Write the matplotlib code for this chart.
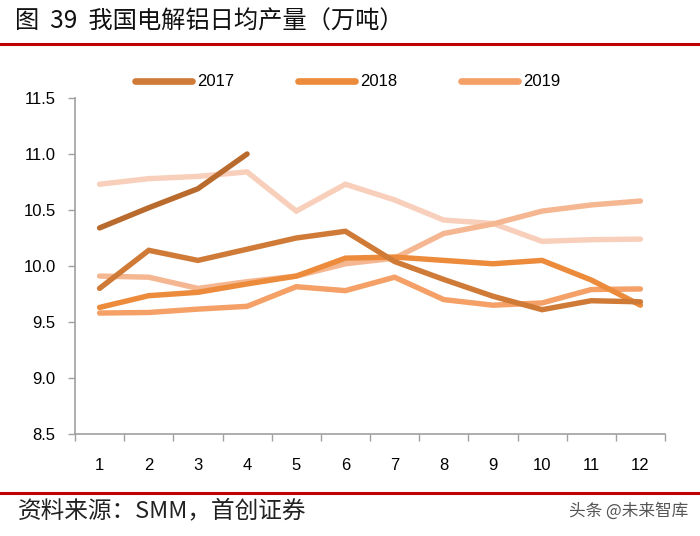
import matplotlib
matplotlib.use("Agg")
import matplotlib.pyplot as plt
from matplotlib.lines import Line2D

plt.rcParams['font.family'] = ['Liberation Sans', 'Noto Sans CJK SC', 'DejaVu Sans']

months = [1, 2, 3, 4, 5, 6, 7, 8, 9, 10, 11, 12]
month_labels = [str(m) for m in months]

y2017 = [9.80, 10.14, 10.05, 10.15, 10.25, 10.31, 10.04, 9.88, 9.73, 9.61, 9.69, 9.68]
y2018 = [9.63, 9.735, 9.765, 9.84, 9.91, 10.07, 10.08, 10.05, 10.02, 10.05, 9.875, 9.65]
y2019 = [9.58, 9.585, 9.615, 9.64, 9.815, 9.78, 9.90, 9.70, 9.65, 9.67, 9.79, 9.795]
y2020 = [9.91, 9.90, 9.80, 9.86, 9.91, 10.02, 10.07, 10.29, 10.375, 10.49, 10.545, 10.58]
y2021 = [10.73, 10.78, 10.80, 10.84, 10.49, 10.73, 10.59, 10.41, 10.38, 10.22, 10.235, 10.24]
y2022 = [10.34, 10.52, 10.69, 11.0]

yticks = [8.5, 9.0, 9.5, 10.0, 10.5, 11.0, 11.5]

series = [
    ("2021", y2021, "#F8CFBB"),
    ("2020", y2020, "#F5B791"),
    ("2019", y2019, "#F4A066"),
    ("2018", y2018, "#EC8B3B"),
    ("2017", y2017, "#CF7A37"),
    ("2022", y2022, "#B96A2D"),
]

fig = plt.figure(figsize=(7.0, 5.36), dpi=100)
ax = fig.add_axes([75/700, 1-434/536, (665-75)/700, (434-98)/536])

handles = {}
for name, vals, col in series:
    ln, = ax.plot(months[:len(vals)], vals, color=col, lw=3.9,
                  solid_capstyle='round', solid_joinstyle='miter')
    handles[name] = ln

ax.set_xlim(0.5, 12.5)
ax.set_ylim(8.5, 11.5)
ax.set_yticks(yticks)
ax.set_yticklabels([f"{v:.1f}" for v in yticks], fontsize=12)
ax.set_xticks([m - 0.5 for m in months] + [12.5])
ax.set_xticklabels([])
ax.set_xticks(months, minor=True)
ax.set_xticklabels(month_labels, minor=True, fontsize=12)
ax.tick_params(axis='x', which='minor', length=0, pad=17)
ax.tick_params(axis='x', which='major', length=5, color='#A0A0A0', width=1)
ax.tick_params(axis='y', length=5, color='#A0A0A0', width=1, pad=9)
for s in ['top', 'right']:
    ax.spines[s].set_visible(False)
for s in ['left', 'bottom']:
    ax.spines[s].set_color('#A0A0A0')
    ax.spines[s].set_linewidth(1.2)

leg_handles = [Line2D([], [], color=handles[n].get_color(), lw=4.8, solid_capstyle='round')
               for n in ["2017", "2018", "2019"]]
fig.legend(leg_handles, ["2017", "2018", "2019"], loc='center left',
           bbox_to_anchor=(120/700, 1-82/536), ncol=3, frameon=False,
           fontsize=12, handlelength=3.4, handletextpad=0.35, columnspacing=3.8)

# title and decorations
fig.text(15/700, 1-22/536, "图  39  我国电解铝日均产量（万吨）", fontsize=17.5,
         family=['Noto Sans CJK SC', 'DejaVu Sans'], va='center', ha='left', color='#111111')
fig.add_artist(Line2D([0, 1], [1-44/536, 1-44/536], color='#C00000', lw=2.2,
                      transform=fig.transFigure))
fig.add_artist(Line2D([0, 1], [1-493/536, 1-493/536], color='#C00000', lw=2.2,
                      transform=fig.transFigure))
fig.text(18/700, 1-511/536, "资料来源：SMM，首创证券", fontsize=17,
         family=['Noto Sans CJK SC', 'DejaVu Sans'], va='center', ha='left', color='#222222')
fig.text(688/700, 1-511/536, "头条 @未来智库", fontsize=12,
         family=['Noto Sans CJK SC', 'DejaVu Sans'], va='center', ha='right', color='#555555')

fig.savefig("out.png", dpi=100)
